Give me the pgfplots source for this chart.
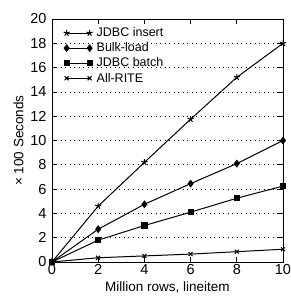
\documentclass[border=0pt]{standalone}
\usepackage{pgfplots}
\pgfplotsset{compat=1.18}
\usepackage{fontspec}
\setmainfont{Liberation Sans}
\usetikzlibrary{plotmarks}
\begin{document}
\begin{tikzpicture}
\begin{axis}[
  name=ax,
  scale only axis,
  width=231pt, height=243pt,
  xmin=0, xmax=10, ymin=0, ymax=20,
  xtick={0,2,...,10}, ytick={0,2,...,20},
  tick align=inside,
  ymajorgrids,
  grid style={black, line width=0.7pt, dash pattern=on 1pt off 3.5pt},
  major tick length=5pt,
  axis line style={line width=0.9pt},
  tick style={black, line width=0.7pt},
  ticklabel style={font=\fontsize{14.5}{16}\selectfont},
  yticklabel style={xshift=-2pt},
  xticklabel style={yshift=1pt},
  /pgf/number format/assume math mode=true,
  xlabel={Million rows, lineitem},
  ylabel={× 100 Seconds},
  label style={font=\fontsize{13.5}{15}\selectfont},
  xlabel style={yshift=0pt},
  ylabel style={yshift=0pt},
  legend style={at={(0.045,0.975)}, anchor=north west, draw=none, fill=none, font=\fontsize{12.5}{13}\selectfont, row sep=1.5pt, inner sep=1pt, nodes={inner ysep=1.5pt, inner xsep=4pt}},
  legend cell align=left,
  legend image code/.code={
    \draw[#1] plot coordinates {(0pt,0pt) (23pt,0pt)};
  },
  every axis plot/.append style={black, line width=1pt, mark options={solid, fill=black, scale=1.3}},
]
\addplot[mark=star, mark options={scale=1.6}] coordinates {(0,0) (2,4.6) (4,8.2) (6,11.75) (8,15.2) (10,18)};
\addlegendentry{JDBC insert}
\addplot[mark=diamond*, mark options={scale=1.6}] coordinates {(0,0) (2,2.7) (4,4.75) (6,6.45) (8,8.1) (10,10)};
\addlegendentry{Bulk-load}
\addplot[mark=square*] coordinates {(0,0) (2,1.8) (4,3.0) (6,4.1) (8,5.25) (10,6.25)};
\addlegendentry{JDBC batch}
\addplot[mark=x, mark options={scale=1.4}] coordinates {(0,0) (2,0.35) (4,0.5) (6,0.65) (8,0.85) (10,1.05)};
\addlegendentry{All-RITE}
\end{axis}
\pgfresetboundingbox
\path (ax.south west) ++(-52pt,-38pt) coordinate (bl);
\path (ax.north east) ++(8pt,19pt) coordinate (tr);
\path[use as bounding box] (bl) rectangle (tr);
\end{tikzpicture}
\end{document}
